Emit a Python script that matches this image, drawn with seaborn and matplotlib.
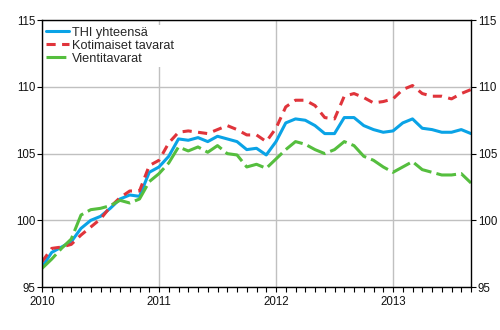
import pandas as pd
import matplotlib
matplotlib.use("Agg")
import matplotlib.pyplot as plt
import seaborn as sns
from matplotlib.ticker import MultipleLocator

# Monthly index values, Jan 2010 - Sep 2013
start_year = 2010
series_names = ["THI yhteensä", "Kotimaiset tavarat", "Vientitavarat"]

thi = [96.5, 97.6, 98.0, 98.4, 99.4, 100.0, 100.3, 100.9, 101.6, 101.9, 101.8, 103.6,
       104.0, 104.8, 106.1, 106.0, 106.2, 105.9, 106.3, 106.1, 105.9, 105.3, 105.4, 104.9,
       105.9, 107.3, 107.6, 107.5, 107.1, 106.5, 106.5, 107.7, 107.7, 107.1, 106.8, 106.6,
       106.7, 107.3, 107.6, 106.9, 106.8, 106.6, 106.6, 106.8, 106.5]
kotimaiset = [96.9, 97.9, 98.0, 98.2, 98.9, 99.5, 100.1, 101.0, 101.7, 102.2, 102.2, 104.1,
              104.5, 105.8, 106.6, 106.7, 106.6, 106.5, 106.8, 107.1, 106.8, 106.4, 106.4, 105.9,
              106.9, 108.5, 109.0, 109.0, 108.6, 107.7, 107.6, 109.3, 109.5, 109.2, 108.8, 108.9,
              109.1, 109.8, 110.1, 109.5, 109.3, 109.3, 109.1, 109.5, 109.8]
vienti = [96.4, 97.1, 97.9, 98.6, 100.4, 100.8, 100.9, 101.1, 101.5, 101.3, 101.6, 102.9,
          103.5, 104.3, 105.5, 105.2, 105.5, 105.1, 105.6, 105.0, 104.9, 104.0, 104.2, 103.9,
          104.6, 105.3, 105.9, 105.7, 105.3, 105.0, 105.3, 105.9, 105.6, 104.8, 104.5, 104.0,
          103.6, 104.0, 104.4, 103.8, 103.6, 103.4, 103.4, 103.5, 102.8]

year_ticks = [2010, 2011, 2012, 2013]
y_ticks = [95, 100, 105, 110, 115]

# long format for seaborn
frames = []
for name, vals in zip(series_names, [thi, kotimaiset, vienti]):
    frames.append(pd.DataFrame({
        "aika": [start_year + i / 12 for i in range(len(vals))],
        "arvo": vals,
        "sarja": name,
    }))
df = pd.concat(frames, ignore_index=True)

sns.set_theme(style="ticks")
plt.rcParams["font.family"] = ["Liberation Sans", "DejaVu Sans"]

fig = plt.figure(figsize=(5, 3.3), dpi=100)
ax = fig.add_axes([0.084, 0.13, 0.858, 0.809])

colors = {"THI yhteensä": "#0AA3E6", "Kotimaiset tavarat": "#E0343B", "Vientitavarat": "#55BE3E"}
dashes = {"THI yhteensä": "", "Kotimaiset tavarat": (3, 2.1), "Vientitavarat": (6.5, 1.7)}

sns.lineplot(data=df, x="aika", y="arvo", hue="sarja", style="sarja",
             palette=colors, dashes=dashes, linewidth=2.2, ax=ax)

ax.set_xlim(start_year, start_year + 44 / 12)
ax.set_ylim(95, 115)
ax.set_xticks(year_ticks)
ax.set_xticklabels([str(y) for y in year_ticks])
ax.xaxis.set_minor_locator(MultipleLocator(1 / 12))
ax.set_yticks(y_ticks)
ax.set_xlabel("")
ax.set_ylabel("")

ax.tick_params(axis="both", which="both", direction="out", length=3.5, width=0.8,
               color="black", labelsize=8.3, pad=1.5, labelcolor="#111111")
ax.tick_params(axis="y", right=True, labelright=True)
ax.tick_params(axis="x", pad=3)

for sp in ax.spines.values():
    sp.set_visible(True)
    sp.set_color("black")
    sp.set_linewidth(1.0)

ax.grid(True, which="major", color="#c0c0c0", linewidth=1.0)
ax.set_axisbelow(True)

handles, labels = ax.get_legend_handles_labels()
leg = ax.legend(handles, labels, loc="upper left", bbox_to_anchor=(0, 0.989),
                borderaxespad=0.15, borderpad=0.15, fontsize=9.2, labelspacing=0.08,
                handlelength=1.8, handletextpad=0.25, frameon=True, fancybox=False,
                framealpha=1, facecolor="white", edgecolor="white")
leg.get_frame().set_linewidth(0)

fig.savefig("out.png", dpi=100)
